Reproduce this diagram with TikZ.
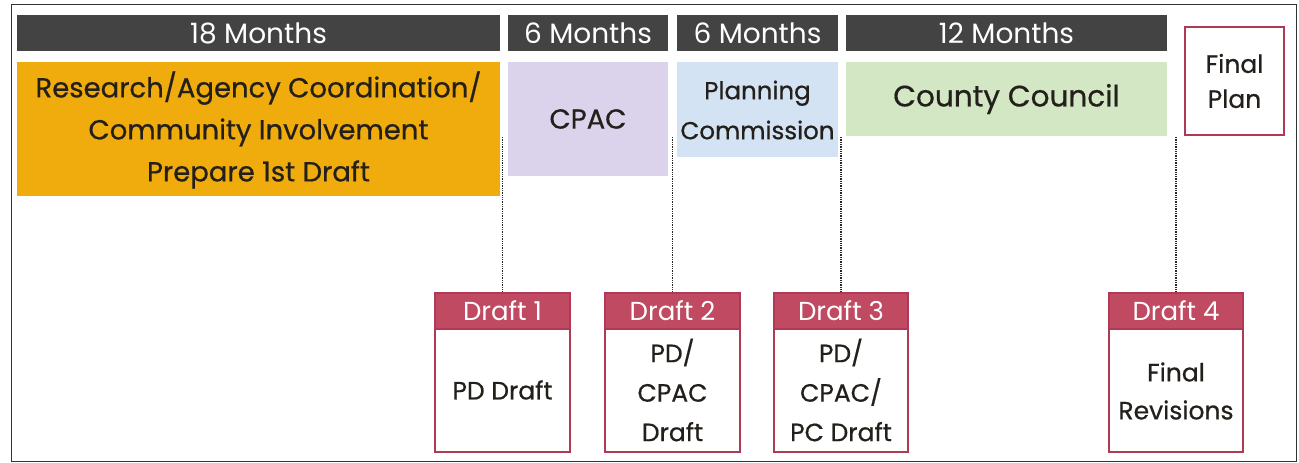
\documentclass[tikz,border=0pt]{standalone}
\usepackage{fontspec}
\setmainfont{Poppins}
\newfontfamily\medfont{Poppins}[FakeBold=0.6]
\definecolor{hdr}{HTML}{434343}
\definecolor{gold}{HTML}{F0AB0C}
\definecolor{lav}{HTML}{DAD3EB}
\definecolor{lblue}{HTML}{D3E3F4}
\definecolor{lgreen}{HTML}{D4E7C4}
\definecolor{draftred}{HTML}{C14A63}
\definecolor{draftline}{HTML}{B03A56}
\definecolor{txt}{HTML}{231F1A}
\begin{document}
\begin{tikzpicture}[x=1pt,y=-1pt,
  hdrtext/.style={text=white,font=\fontsize{28}{30}\selectfont},
  phase/.style={draw=none,text=txt,align=center,font=\medfont\fontsize{27.5}{42}\selectfont},
  draftbox/.style={draw=draftline,line width=1.6pt,fill=white},
  drafthdr/.style={fill=draftred,draw=draftline,line width=1.6pt},
  drafttext/.style={text=white,font=\fontsize{26}{28}\selectfont},
  draftbody/.style={text=txt,align=center,font=\medfont\fontsize{25}{39.5}\selectfont},
  tick/.style={densely dotted,line width=1.3pt,draw=black!85}]
\useasboundingbox (0,0) rectangle (1299,463);
\draw[black!80,line width=1pt] (11,4) rectangle (1296,461);
% headers
\fill[hdr] (17,15) rectangle (500,51);
\node[hdrtext] (h1) at (258.5,33) {18 Months};
\fill[hdr] (508,15) rectangle (668,51);
\node[hdrtext] (h2) at (588,33) {6 Months};
\fill[hdr] (677,15) rectangle (838,51);
\node[hdrtext] (h3) at (757.5,33) {6 Months};
\fill[hdr] (846,15) rectangle (1167,51);
\node[hdrtext] (h4) at (1006.5,33) {12 Months};
% phases
\fill[gold] (17,62) rectangle (500,196);
\node[phase] (p1) at (258.5,130) {Research/Agency Coordination/\\Community Involvement\\Prepare 1st Draft};
\fill[lav] (508,62) rectangle (668,176);
\node[phase] (p2) at (588,119) {CPAC};
\fill[lblue] (677,62) rectangle (838,157);
\node[phase,font=\medfont\fontsize{24.5}{40}\selectfont] (p3) at (757.5,110) {Planning\\Commission};
\fill[lgreen] (846,62) rectangle (1167,136);
\node[phase,font=\medfont\fontsize{29.5}{40}\selectfont] (p4) at (1006.5,99) {County Council};
\draw[draftline,line width=1.6pt,fill=white] (1185,27) rectangle (1284,135);
\node[draftbody,font=\medfont\fontsize{25}{35}\selectfont] (fp) at (1234.5,81) {Final\\Plan};
% drafts
\foreach \n/\xa/\xb in {1/435/570,2/605/740,3/774/908,4/1109/1243}{
  \draw[draftbox] (\xa,293) rectangle (\xb,452);
  \draw[drafthdr] (\xa,293) rectangle (\xb,329);
  \node[drafttext] (d\n) at ({(\xa+\xb)/2},311) {Draft \n};
  \coordinate (t\n) at ({(\xa+\xb)/2},293);
}
\node[draftbody] (b1) at (502.5,390) {PD Draft};
\node[draftbody] (b2) at (672.5,390) {PD/\\CPAC\\Draft};
\node[draftbody] (b3) at (841,390) {PD/\\CPAC/\\PC Draft};
\node[draftbody,font=\medfont\fontsize{25}{38}\selectfont] (b4) at (1176,391) {Final\\Revisions};
% ticks
\coordinate (s1) at (502.5,137);
\coordinate (s2) at (672.5,137);
\coordinate (s3) at (841,137);
\coordinate (s4) at (1176,137);
\foreach \n in {1,2,3,4}{\draw[tick] (s\n) -- (t\n);}
\end{tikzpicture}
\end{document}
